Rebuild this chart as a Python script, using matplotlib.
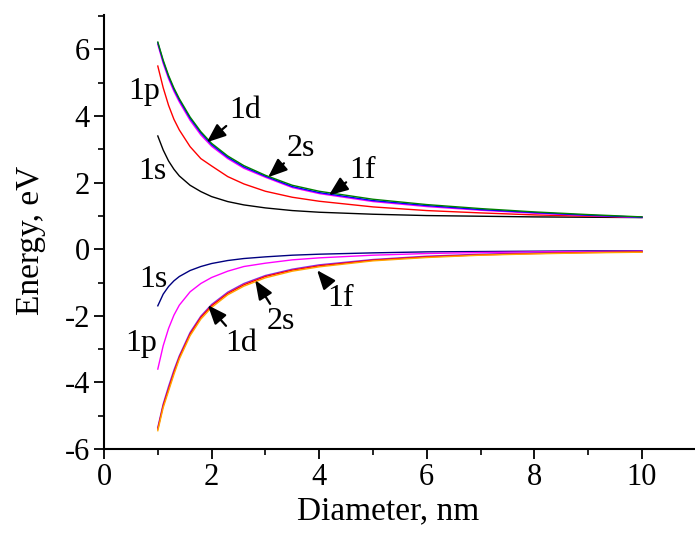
import numpy as np
import matplotlib
matplotlib.use("Agg")
import matplotlib.pyplot as plt
from matplotlib.ticker import MultipleLocator

plt.rcParams['font.family'] = ['Liberation Serif', 'DejaVu Serif']
plt.rcParams['axes.unicode_minus'] = False

# diameter grid (nm)
diameter = [1.0, 1.1, 1.2, 1.3, 1.4, 1.6, 1.8, 2.0, 2.3, 2.6, 3.0, 3.5, 4.0,
            5.0, 6.0, 7.0, 8.0, 9.0, 10.0]

# electron levels (eV)
e_1s = [3.40, 2.98, 2.65, 2.40, 2.20, 1.92, 1.73, 1.58, 1.43, 1.33, 1.24, 1.16,
        1.11, 1.05, 1.01, 0.99, 0.97, 0.96, 0.95]
e_1p = [5.50, 4.85, 4.32, 3.90, 3.58, 3.08, 2.72, 2.50, 2.18, 1.96, 1.74, 1.56,
        1.44, 1.27, 1.16, 1.09, 1.03, 0.99, 0.96]
e_1d = [6.20, 5.64, 5.18, 4.80, 4.48, 3.93, 3.49, 3.14, 2.76, 2.47, 2.19, 1.88,
        1.70, 1.46, 1.31, 1.19, 1.10, 1.02, 0.96]
e_2s = [6.15, 5.58, 5.12, 4.74, 4.42, 3.87, 3.43, 3.09, 2.72, 2.43, 2.16, 1.85,
        1.67, 1.43, 1.28, 1.17, 1.08, 1.01, 0.95]
e_1f = [6.22, 5.68, 5.22, 4.84, 4.52, 3.97, 3.53, 3.18, 2.80, 2.51, 2.22, 1.92,
        1.74, 1.50, 1.34, 1.22, 1.12, 1.04, 0.97]

# hole levels (eV)
h_1s = [-1.70, -1.35, -1.12, -0.95, -0.82, -0.64, -0.52, -0.43, -0.34, -0.28,
        -0.23, -0.18, -0.15, -0.11, -0.08, -0.07, -0.06, -0.05, -0.05]
h_1p = [-3.60, -2.90, -2.38, -1.98, -1.68, -1.28, -1.03, -0.85, -0.66, -0.52,
        -0.42, -0.32, -0.26, -0.18, -0.13, -0.10, -0.08, -0.07, -0.06]
h_1d = [-5.35, -4.65, -4.12, -3.63, -3.20, -2.50, -2.01, -1.66, -1.29, -1.03,
        -0.79, -0.60, -0.47, -0.31, -0.21, -0.15, -0.11, -0.09, -0.07]
h_2s = [-5.40, -4.70, -4.20, -3.70, -3.25, -2.55, -2.05, -1.70, -1.33, -1.07,
        -0.82, -0.63, -0.50, -0.33, -0.23, -0.17, -0.13, -0.10, -0.08]
h_1f = [-5.45, -4.76, -4.26, -3.76, -3.30, -2.60, -2.10, -1.75, -1.37, -1.11,
        -0.86, -0.66, -0.53, -0.35, -0.25, -0.18, -0.14, -0.11, -0.09]

fig = plt.figure(figsize=(6.95, 5.36), dpi=100)
ax = fig.add_axes([104/695, 1 - 449/536, 591/695, 434/536])

ax.plot(diameter, e_1s, color='black', lw=1.0)
ax.plot(diameter, e_1p, color='red', lw=1.0)
ax.plot(diameter, e_2s, color='magenta', lw=1.0)
ax.plot(diameter, e_1d, color='blue', lw=1.0)
ax.plot(diameter, e_1f, color='green', lw=1.0)

ax.plot(diameter, h_1s, color='navy', lw=1.0)
ax.plot(diameter, h_1p, color='magenta', lw=1.0)
ax.plot(diameter, h_1d, color='blueviolet', lw=1.0)
ax.plot(diameter, h_2s, color='red', lw=1.0)
ax.plot(diameter, h_1f, color='orange', lw=1.0)

# level labels
fs = 23
ax.text(0.74, 4.74, '1p', fontsize=fs, ha='center', va='center')
ax.text(0.89, 2.34, '1s', fontsize=fs, ha='center', va='center')
ax.text(0.91, -0.9, '1s', fontsize=fs, ha='center', va='center')
ax.text(0.69, -2.82, '1p', fontsize=fs, ha='center', va='center')

arrow = dict(arrowstyle='-|>,head_length=0.5,head_width=0.2', color='black', lw=1.6,
             shrinkA=0, shrinkB=0)
ax.annotate('1d', xy=(1.91, 3.21), xytext=(2.62, 4.17), fontsize=fs,
            ha='center', va='center', arrowprops=arrow)
ax.annotate('2s', xy=(3.05, 2.16), xytext=(3.66, 3.03), fontsize=fs,
            ha='center', va='center', arrowprops=arrow)
ax.annotate('1f', xy=(4.18, 1.62), xytext=(4.80, 2.37), fontsize=fs,
            ha='center', va='center', arrowprops=arrow)
ax.annotate('1d', xy=(1.93, -1.68), xytext=(2.55, -2.82), fontsize=fs,
            ha='center', va='center', arrowprops=arrow)
ax.annotate('2s', xy=(2.81, -0.93), xytext=(3.29, -2.16), fontsize=fs,
            ha='center', va='center', arrowprops=arrow)
ax.annotate('1f', xy=(3.96, -0.63), xytext=(4.39, -1.47), fontsize=fs,
            ha='center', va='center', arrowprops=arrow)

ax.set_xlim(0, 591/53.8)
ax.set_ylim(-6, -6 + 434/33.3)
ax.xaxis.set_major_locator(MultipleLocator(2))
ax.xaxis.set_minor_locator(MultipleLocator(1))
ax.yaxis.set_major_locator(MultipleLocator(2))
ax.yaxis.set_minor_locator(MultipleLocator(1))
ax.tick_params(which='major', direction='out', length=7, width=1.3,
               labelsize=22, pad=3)
ax.tick_params(which='minor', direction='out', length=4, width=1.2)
ax.spines['top'].set_visible(False)
ax.spines['right'].set_visible(False)
for s in ('left', 'bottom'):
    ax.spines[s].set_linewidth(1.5)

ax.set_xlabel('Diameter, nm', fontsize=24)
ax.set_ylabel('Energy, eV', fontsize=24)
ax.xaxis.set_label_coords((388 - 104) / 591, -(496 - 449) / 434)
ax.yaxis.set_label_coords(-(104 - 46) / 591, (449 - 240) / 434)

fig.savefig('out.png', dpi=100)
